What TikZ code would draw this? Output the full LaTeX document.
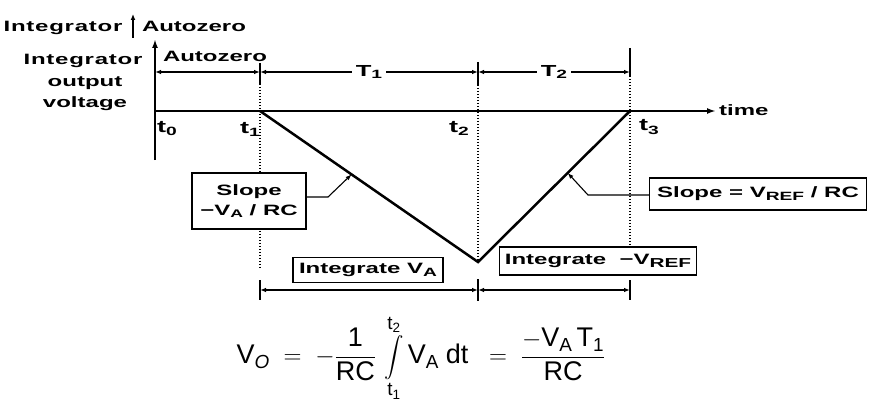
\documentclass[tikz,border=0pt]{standalone}
\usepackage{amsmath}
\usepackage{graphicx}
\usepackage{fontspec}
\setmainfont{Liberation Sans}
\newfontfamily\wf[FakeStretch=1.6]{Liberation Sans}
\newfontfamily\wfs[FakeStretch=1.6,LetterSpace=5]{Liberation Sans}
\usetikzlibrary{arrows.meta,calc}
\newcommand\mysub[2]{\raisebox{-0.35ex}{\fontsize{#1}{#1}\selectfont #2}}
\newcommand\myint{\mathop{\vcenter{\hbox{\scalebox{0.78}[0.8]{$\displaystyle\int$}}}}\limits}
\begin{document}
\begin{tikzpicture}[x=1pt,y=-1pt,
  lbl/.style={font=\wf\bfseries\fontsize{15}{17}\selectfont, inner sep=0pt, anchor=base},
  wlbl/.style={font=\wfs\bfseries\fontsize{15}{17}\selectfont, inner sep=0pt, anchor=base},
  tlbl/.style={font=\wf\bfseries\fontsize{17}{19}\selectfont, inner sep=0pt, anchor=base},
  thickln/.style={line width=2.5pt, line join=miter},
  axis/.style={line width=2pt, -{Latex[length=9pt,width=6pt]}},
  dim/.style={line width=1.1pt, {Latex[length=6pt,width=4.5pt]}-{Latex[length=6pt,width=4.5pt]}},
  dotln/.style={line width=1.4pt, dash pattern=on 1.3pt off 1.7pt},
  tickln/.style={line width=1.3pt},
  pointer/.style={line width=1.1pt, -{Latex[length=6pt,width=4.5pt]}},
  box/.style={draw, line width=1.2pt, fill=white, inner sep=2pt, font=\wf\bfseries\fontsize{15}{20}\selectfont}]
\useasboundingbox (0,0) rectangle (871,404);

% key points
\coordinate (O) at (155,111);
\coordinate (Otop) at (155,39);
\coordinate (Obot) at (155,160);
\coordinate (tend) at (716,111);
\coordinate (P1) at (260,111);
\coordinate (P2) at (478,262);
\coordinate (P3) at (630,111);

% top legend
\node[wlbl] (h1) at (63,32) {Integrator};
\node[lbl] (h2) at (194,32) {Autozero};
\coordinate (ha0) at (133,38);
\coordinate (ha1) at (133,14);
\draw[line width=1.3pt, -{Latex[length=6pt,width=5pt]}] (ha0) -- (ha1);

% axis label
\node[wlbl] (v1) at (83,65) {Integrator};
\node[lbl] (v2) at (85,87) {output};
\node[lbl] (v3) at (85,107) {voltage};
\node[lbl] (az) at (215,62) {Autozero};

% dotted verticals
\coordinate (d1a) at (260,84);  \coordinate (d1b) at (260,268);
\coordinate (d2a) at (478,85);
\coordinate (d3a) at (630,76);  \coordinate (d3b) at (630,247);
\draw[dotln] (d1a) -- (d1b);
\draw[dotln] (d2a) -- (P2);
\draw[dotln] (d3a) -- (d3b);

% solid ticks at top
\coordinate (k1a) at (260,63); \coordinate (k1b) at (260,84);
\coordinate (k2a) at (478,62); \coordinate (k2b) at (478,85);
\coordinate (k3a) at (630,48); \coordinate (k3b) at (630,76);
\draw[tickln] (k1a) -- (k1b);
\draw[tickln] (k2a) -- (k2b);
\draw[tickln] (k3a) -- (k3b);

% top dimension lines
\coordinate (A0) at (155,72);
\coordinate (A1) at (260,72);
\coordinate (A2) at (478,72);
\coordinate (A3) at (630,72);
\draw[dim] (A0) -- (A1);
\draw[dim] (A1) -- node[fill=white, font=\wf\bfseries\fontsize{16}{18}\selectfont, inner sep=4pt] (T1) {T\mysub{12}{1}} (A2);
\draw[dim] (A2) -- node[fill=white, font=\wf\bfseries\fontsize{16}{18}\selectfont, inner sep=4pt] (T2) {T\mysub{12}{2}} (A3);

% axes
\draw[axis] (Obot) -- (Otop);
\draw[axis] (O) -- (tend);
\node[font=\wf\bfseries\fontsize{15}{17}\selectfont, anchor=base west, inner sep=0pt] (tm) at (719,116) {time};

% time labels
\node[tlbl] (t0) at (167,132) {t\mysub{12}{0}};
\node[tlbl] (t1) at (250,133) {t\mysub{12}{1}};
\node[tlbl] (t2) at (459,132) {t\mysub{12}{2}};
\node[tlbl] (t3) at (649,131) {t\mysub{12}{3}};

% integrator output
\draw[thickln] (P1) -- (P2) -- (P3);

% bottom dimension lines
\coordinate (B1) at (260,290);
\coordinate (B2) at (478,290);
\coordinate (B3) at (630,290);
\coordinate (b1a) at (260,280); \coordinate (b1b) at (260,300);
\coordinate (b2a) at (478,279); \coordinate (b2b) at (478,301);
\coordinate (b3a) at (630,280); \coordinate (b3b) at (630,300);
\draw[tickln] (b1a) -- (b1b);
\draw[tickln] (b2a) -- (b2b);
\draw[tickln] (b3a) -- (b3b);
\draw[dim] (B1) -- (B2);
\draw[dim] (B2) -- (B3);

% boxes
\node[box, minimum width=114pt, minimum height=56pt, align=center] (s1) at (249,201) {Slope\\−V\mysub{11}{A} / RC};
\node[box, minimum width=150pt, minimum height=25pt] (iva) at (368,270) {Integrate V\mysub{12}{A}};
\node[box, minimum width=197pt, minimum height=28pt] (ivr) at (598,261) {Integrate \ −V\mysub{13}{REF}};
\node[box, minimum width=217pt, minimum height=32pt] (s2) at (758,194) {Slope = V\mysub{12}{REF} / RC};

% pointers
\coordinate (a1) at ($(P1)!0.42!(P2)$);
\coordinate (m1) at (328,197);
\draw[pointer] (s1.east |- m1) -- (m1) -- (a1);
\coordinate (a2) at ($(P2)!0.59!(P3)$);
\coordinate (m2) at (588,195);
\draw[pointer] (s2.west |- m2) -- (m2) -- (a2);

% equation
\node[font=\fontsize{27}{30}\selectfont, inner sep=0pt] (eq) at (421,358)
  {$\displaystyle \mathrm{V_{\mathit{O}}} \;=\; -\frac{\mathrm{1}}{\mathrm{RC}}\,\myint_{\mathrm{t_1}}^{\mathrm{t_2}} \mathrm{V_A}\;\mathrm{dt} \;\;=\; \frac{-\mathrm{V_A}\,\mathrm{T_1}}{\mathrm{RC}}$};
\end{tikzpicture}
\end{document}
